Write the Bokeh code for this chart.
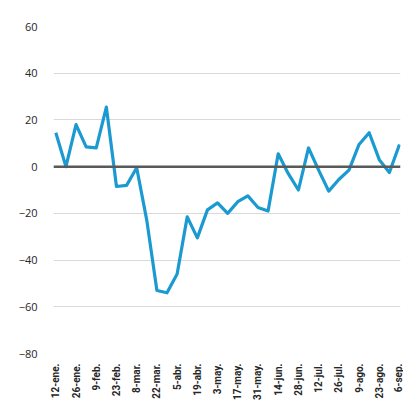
import math
from bokeh.plotting import figure
from bokeh.models import FixedTicker, Range1d, Span
from bokeh.embed import file_html
from bokeh.resources import INLINE

weeks = ['12-ene.', '19-ene.', '26-ene.', '2-feb.', '9-feb.', '16-feb.', '23-feb.', '1-mar.',
         '8-mar.', '15-mar.', '22-mar.', '29-mar.', '5-abr.', '12-abr.', '19-abr.', '26-abr.',
         '3-may.', '10-may.', '17-may.', '24-may.', '31-may.', '7-jun.', '14-jun.', '21-jun.',
         '28-jun.', '5-jul.', '12-jul.', '19-jul.', '26-jul.', '2-ago.', '9-ago.', '16-ago.',
         '23-ago.', '30-ago.', '6-sep.']
values = [14.5, 0, 18, 8.5, 8, 25.5, -8.5, -8, -0.5, -23, -53, -54, -46, -21.5, -30.5,
          -18.5, -15.5, -20, -15, -12.5, -17.5, -19, 5.5, -3, -10, 8, -1.5, -10.5, -5.5,
          -1.5, 9.5, 14.5, 3, -2.5, 9.5]
y_ticks = [-80, -60, -40, -20, 0, 20, 40, 60]

xs = list(range(len(weeks)))

p = figure(width=403, height=403, output_backend="svg", toolbar_location=None,
           x_range=Range1d(-0.23, len(weeks) - 0.9), y_range=Range1d(-80, 60),
           min_border_left=53, min_border_right=3, min_border_top=26, min_border_bottom=43)
p.outline_line_color = None
p.background_fill_color = "white"

p.line(xs, values, line_color="#1b9ad1", line_width=3.2, line_join="round")
p.add_layout(Span(location=0, dimension="width", line_color="#595959", line_width=2.5))

p.xgrid.visible = False
p.ygrid.grid_line_color = "#d9d9d9"
p.ygrid.grid_line_width = 1

p.yaxis.ticker = FixedTicker(ticks=y_ticks)
p.yaxis.axis_line_color = None
p.yaxis.major_tick_line_color = None
p.yaxis.minor_tick_line_color = None
p.yaxis.major_label_standoff = 10
p.yaxis.major_label_text_font = "Open Sans"
p.yaxis.major_label_text_font_size = "11px"
p.yaxis.major_label_text_color = "#262626"

shown = xs[::2]
p.xaxis.ticker = FixedTicker(ticks=shown)
p.xaxis.major_label_overrides = {i: weeks[i] for i in shown}
p.xaxis.major_label_orientation = math.pi / 2
p.xaxis.axis_line_color = None
p.xaxis.major_tick_line_color = None
p.xaxis.minor_tick_line_color = None
p.xaxis.major_label_standoff = 4
p.xaxis.major_label_text_font = "Roboto"
p.xaxis.major_label_text_font_size = "10px"
p.xaxis.major_label_text_font_style = "bold"
p.xaxis.major_label_text_color = "#262626"

open("out.html", "w").write(file_html(p, INLINE))
